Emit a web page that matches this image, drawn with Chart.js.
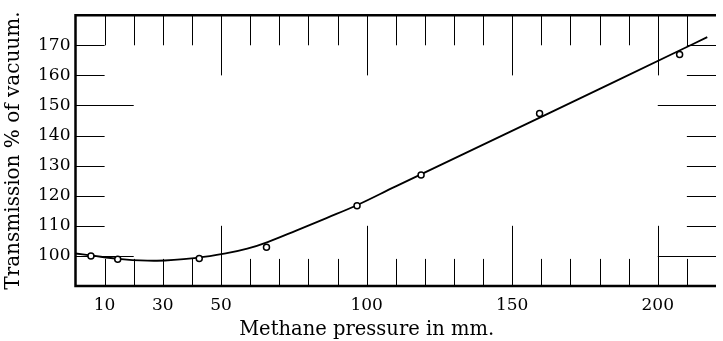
<!DOCTYPE html>
<html lang="en">
<head>
<meta charset="UTF-8">
<title>Transmission vs methane pressure</title>
<style>
    html, body {
        margin: 0;
        padding: 0;
        background: #ffffff;
        overflow: hidden;
    }
    .chart-box {
        width: 725px;
        height: 341px;
    }
</style>
</head>
<body>
<div class="chart-box"><canvas id="chart"></canvas></div>

<script src="https://cdn.jsdelivr.net/npm/chart.js@4"></script>
<script>
// measured points (open circles)
const pressureMeasured = [5.3, 14.5, 42.5, 65.6, 96.7, 118.7, 159.4, 207.5];
const transmissionMeasured = [100.0, 98.9, 99.1, 102.9, 116.7, 126.9, 147.3, 166.9];

// smooth curve drawn through them
const pressureCurve = [0, 5, 15, 28, 42, 52, 59, 66, 76, 86, 97, 110, 160, 208, 217];
const transmissionCurve = [100.8, 100.2, 99.0, 98.4, 99.4, 100.9, 102.4, 104.6, 108.5, 112.5, 117.0, 123.1, 146.2, 168.5, 172.7];

const xTickLabels = [10, 30, 50, 100, 150, 200];
const yTickLabels = [100, 110, 120, 130, 140, 150, 160, 170];

const serif = 'DejaVu Serif';
const xTitle = 'Methane pressure in mm.';

// frame on three sides plus the short/long inner ticks of the old plot
const framePlugin = {
    id: 'frame',
    beforeDatasetsDraw(chart) {
        const ctx = chart.ctx;
        const area = chart.chartArea;
        const xs = chart.scales.x;
        const ys = chart.scales.y;
        ctx.save();
        ctx.strokeStyle = '#000';

        ctx.lineWidth = 1;
        for (let v = 10; v <= 210; v += 10) {
            const px = Math.round(xs.getPixelForValue(v)) + 0.5;
            const major = v % 50 === 0;
            ctx.beginPath();
            ctx.moveTo(px, area.bottom);
            ctx.lineTo(px, ys.getPixelForValue(major ? 110 : 99));
            ctx.moveTo(px, area.top);
            ctx.lineTo(px, ys.getPixelForValue(major ? 160 : 170));
            ctx.stroke();
        }
        yTickLabels.forEach(v => {
            const py = Math.round(ys.getPixelForValue(v)) + 0.5;
            const major = v % 50 === 0;
            ctx.beginPath();
            ctx.moveTo(area.left, py);
            ctx.lineTo(xs.getPixelForValue(major ? 20 : 10), py);
            ctx.moveTo(area.right, py);
            ctx.lineTo(xs.getPixelForValue(major ? 200 : 210), py);
            ctx.stroke();
        });

        ctx.lineWidth = 2.5;
        ctx.beginPath();
        ctx.moveTo(area.right, area.top);
        ctx.lineTo(area.left, area.top);
        ctx.lineTo(area.left, area.bottom);
        ctx.lineTo(area.right, area.bottom);
        ctx.stroke();

        // x title sits under the 100 mark in the original, not mid-axis
        ctx.fillStyle = '#000';
        ctx.font = '19.5px "' + serif + '"';
        ctx.textAlign = 'center';
        ctx.textBaseline = 'middle';
        ctx.fillText(xTitle, xs.getPixelForValue(100), 330);
        ctx.restore();
    }
};

const curveData = pressureCurve.map((p, i) => ({ x: p, y: transmissionCurve[i] }));
const pointData = pressureMeasured.map((p, i) => ({ x: p, y: transmissionMeasured[i] }));

new Chart(document.getElementById('chart'), {
    type: 'scatter',
    data: {
        datasets: [
            {
                data: pointData,
                showLine: false,
                pointRadius: 3,
                pointBorderWidth: 1.5,
                pointBorderColor: '#000',
                pointBackgroundColor: '#fff',
                order: 0
            },
            {
                data: curveData,
                showLine: true,
                pointRadius: 0,
                borderColor: '#000',
                borderWidth: 1.8,
                tension: 0.4,
                order: 1
            }
        ]
    },
    options: {
        responsive: true,
        maintainAspectRatio: false,
        animation: false,
        layout: { padding: { top: 13, right: 0, left: 0, bottom: 0 } },
        plugins: {
            legend: { display: false },
            tooltip: { enabled: false }
        },
        scales: {
            x: {
                type: 'linear',
                min: 0,
                max: 220,
                grid: { display: false, drawTicks: false },
                border: { display: false },
                afterFit: scale => { scale.height = 55; },
                ticks: {
                    stepSize: 10,
                    autoSkip: false,
                    maxRotation: 0,
                    padding: 9,
                    color: '#000',
                    font: { family: serif, size: 17 },
                    callback: v => xTickLabels.includes(v) ? String(v) : ''
                },
                title: { display: false }
            },
            y: {
                min: 90,
                max: 180,
                grid: { display: false, drawTicks: false },
                border: { display: false },
                afterFit: scale => { scale.width = 75.5; },
                ticks: {
                    stepSize: 10,
                    padding: 5,
                    color: '#000',
                    font: { family: serif, size: 17 },
                    callback: v => yTickLabels.includes(v) ? String(v) : ''
                },
                title: {
                    display: true,
                    text: 'Transmission % of vacuum.',
                    color: '#000',
                    font: { family: serif, size: 20 },
                    padding: { top: 2, bottom: 0 }
                }
            }
        }
    },
    plugins: [framePlugin]
});
</script>
</body>
</html>
